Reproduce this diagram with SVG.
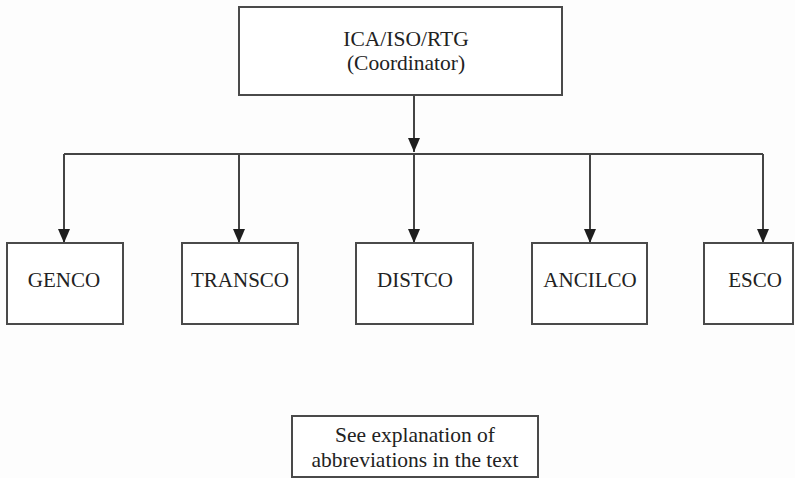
<svg xmlns="http://www.w3.org/2000/svg" width="795" height="478" viewBox="0 0 795 478">
  <style>
    .box { fill: #ffffff; stroke: #4a4a4a; stroke-width: 2; }
    .wire { fill: none; stroke: #444444; stroke-width: 2; }
    .lbl { font-family: 'Liberation Serif', 'DejaVu Serif', serif; font-size: 21px; fill: #222222; text-anchor: middle; }
    .big { font-size: 21.5px; }
  </style>
  <defs>
    <marker id="arrow" markerUnits="userSpaceOnUse" markerWidth="12" markerHeight="15" refX="6" refY="14" orient="0" viewBox="0 0 12 15">
      <polygon points="0,0 12,0 6,14" fill="#1e1e1e"/>
    </marker>
  </defs>
  <rect width="795" height="478" fill="#fdfdfd"/>

  <g id="connectors">
    <line class="wire" x1="414" y1="96" x2="414" y2="152" marker-end="url(#arrow)"/>
    <line class="wire" x1="64" y1="154" x2="763" y2="154"/>
    <line class="wire" x1="64" y1="154" x2="64" y2="243" marker-end="url(#arrow)"/>
    <line class="wire" x1="239" y1="154" x2="239" y2="243" marker-end="url(#arrow)"/>
    <line class="wire" x1="414" y1="154" x2="414" y2="243" marker-end="url(#arrow)"/>
    <line class="wire" x1="590" y1="154" x2="590" y2="243" marker-end="url(#arrow)"/>
    <line class="wire" x1="763" y1="154" x2="763" y2="243" marker-end="url(#arrow)"/>
  </g>

  <g id="coordinator">
    <rect class="box" x="239" y="7" width="323" height="88"/>
    <text class="lbl big" x="406" y="46">ICA/ISO/RTG</text>
    <text class="lbl big" x="406" y="70">(Coordinator)</text>
  </g>

  <g id="genco">
    <rect class="box" x="7" y="243" width="116" height="81"/>
    <text class="lbl" x="64" y="287">GENCO</text>
  </g>

  <g id="transco">
    <rect class="box" x="182" y="243" width="116" height="81"/>
    <text class="lbl" x="240" y="287">TRANSCO</text>
  </g>

  <g id="distco">
    <rect class="box" x="356" y="243" width="117" height="81"/>
    <text class="lbl" x="415" y="287">DISTCO</text>
  </g>

  <g id="ancilco">
    <rect class="box" x="532" y="243" width="115" height="81"/>
    <text class="lbl" x="590" y="287">ANCILCO</text>
  </g>

  <g id="esco">
    <rect class="box" x="704" y="243" width="89" height="81"/>
    <text class="lbl" x="755" y="287">ESCO</text>
  </g>

  <g id="note">
    <rect class="box" x="292" y="416" width="246" height="61"/>
    <text class="lbl big" x="415" y="442">See explanation of</text>
    <text class="lbl big" x="415" y="467">abbreviations in the text</text>
  </g>
</svg>
